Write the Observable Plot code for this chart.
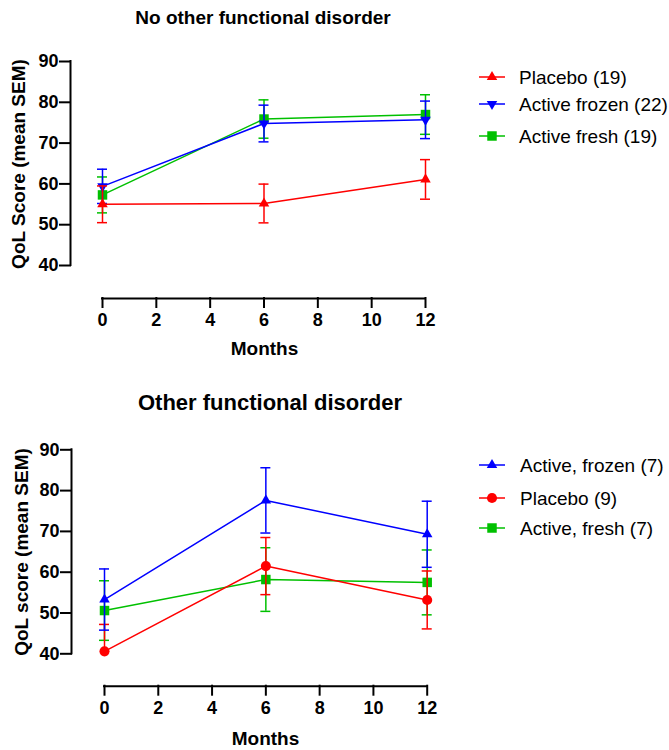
<!DOCTYPE html>
<html>
<head>
<meta charset="utf-8">
<script src="https://cdn.jsdelivr.net/npm/d3@7"></script>
<script src="https://cdn.jsdelivr.net/npm/@observablehq/plot@0.6"></script>
<style>
  body { margin: 0; background: #fff; }
  #chart { position: relative; width: 669px; height: 750px; font-family: "Liberation Sans", Arial, sans-serif; color: #000; overflow: hidden; }
  .lbl { position: absolute; white-space: nowrap; line-height: 1; font-weight: bold; transform: translate(-50%, -50%); }
  .vlbl { position: absolute; white-space: nowrap; line-height: 1; font-weight: bold; transform: translate(-50%, -50%) rotate(-90deg); }
  .leg { position: absolute; white-space: nowrap; line-height: 1; font-size: 19px; transform: translateY(-50%); }
  .sw { position: absolute; }
  .panel { position: absolute; left: 0; }
  svg.panel text { font-size: 18px !important; font-weight: bold !important; font-family: "Liberation Sans", Arial, sans-serif !important; }
</style>
</head>
<body>
<div id="chart"></div>
<script>
// ---------- data ----------
const months = [0, 6, 12];
const xTicks = [0, 2, 4, 6, 8, 10, 12];
const yTicks = [40, 50, 60, 70, 80, 90];

// Panel A: No other functional disorder
const titleA = "No other functional disorder";
const yLabelA = "QoL Score (mean SEM)";
const aPlaceboMean = [55.0, 55.2, 61.1];
const aPlaceboSem  = [4.5, 4.75, 4.85];
const aFrozenMean  = [59.4, 74.8, 75.7];
const aFrozenSem   = [4.2, 4.5, 4.6];
const aFreshMean   = [57.3, 75.9, 77.0];
const aFreshSem    = [4.4, 4.7, 4.85];
const aNames = ["Placebo (19)", "Active frozen (22)", "Active fresh (19)"];

// Panel B: Other functional disorder
const titleB = "Other functional disorder";
const yLabelB = "QoL score (mean SEM)";
const bFrozenMean  = [53.3, 77.6, 69.3];
const bFrozenSem   = [7.5, 8.0, 8.1];
const bPlaceboMean = [40.6, 61.5, 53.2];
const bPlaceboSem  = [6.6, 7.0, 7.1];
const bFreshMean   = [50.6, 58.2, 57.5];
const bFreshSem    = [7.3, 7.8, 7.95];
const bNames = ["Active, frozen (7)", "Placebo (9)", "Active, fresh (7)"];

const xLabel = "Months";

// ---------- styling ----------
const RED = "#ff0000", BLUE = "#0000ff", GREEN = "#00c000";
const triDown = {
  draw(context, size) {
    const y = Math.sqrt(size / (Math.sqrt(3) * 3));
    const x = Math.sqrt(3) * y;
    context.moveTo(0, 2 * y);
    context.lineTo(x, -y);
    context.lineTo(-x, -y);
    context.closePath();
  }
};
const SYM = {
  up:     {plot: "triangle", d3: d3.symbolTriangle, size: 48},
  down:   {plot: triDown,   d3: triDown,           size: 48},
  square: {plot: "square",  d3: d3.symbolSquare,   size: 90},
  circle: {plot: "circle",  d3: d3.symbolCircle,   size: 80}
};

function rows(mean, sem) {
  return months.map((m, i) => ({month: m, mean: mean[i], lo: mean[i] - sem[i], hi: mean[i] + sem[i]}));
}

const seriesA = [
  {name: aNames[2], color: GREEN, sym: SYM.square, data: rows(aFreshMean, aFreshSem)},
  {name: aNames[1], color: BLUE,  sym: SYM.down,   data: rows(aFrozenMean, aFrozenSem)},
  {name: aNames[0], color: RED,   sym: SYM.up,     data: rows(aPlaceboMean, aPlaceboSem)}
];
const legendA = [seriesA[2], seriesA[1], seriesA[0]];

const seriesB = [
  {name: bNames[2], color: GREEN, sym: SYM.square, data: rows(bFreshMean, bFreshSem)},
  {name: bNames[1], color: RED,   sym: SYM.circle, data: rows(bPlaceboMean, bPlaceboSem)},
  {name: bNames[0], color: BLUE,  sym: SYM.up,     data: rows(bFrozenMean, bFrozenSem)}
];
const legendB = [seriesB[2], seriesB[1], seriesB[0]];

const chart = document.getElementById("chart");

function panel(series, L) {
  const yDomain = [yTicks[0], yTicks[yTicks.length - 1]];
  const marks = [];
  for (const s of series) {
    const caps = s.data.flatMap(d => [{month: d.month, v: d.lo}, {month: d.month, v: d.hi}])
      .filter(c => c.v >= yDomain[0] && c.v <= yDomain[1]);
    marks.push(Plot.ruleX(s.data, {x: "month", y1: "lo", y2: "hi", stroke: s.color, strokeWidth: 1.5}));
    marks.push(Plot.ruleY(caps, {x1: "month", x2: "month", y: "v", insetLeft: -5, insetRight: -5, stroke: s.color, strokeWidth: 1.5}));
    marks.push(Plot.line(s.data, {x: "month", y: "mean", stroke: s.color, strokeWidth: 1.5}));
    marks.push(Plot.dot(s.data, {x: "month", y: "mean", symbol: () => s.sym.plot, r: Math.sqrt(s.sym.size / Math.PI), fill: s.color, stroke: "none"}));
  }
  // axis lines (offset Prism style)
  marks.push(Plot.ruleX([xTicks[0]], {y1: yDomain[0], y2: yDomain[1], dx: L.axisX - L.x0, strokeWidth: 2, strokeLinecap: "square"}));
  marks.push(Plot.ruleY([yDomain[0]], {x1: xTicks[0], x2: xTicks[xTicks.length - 1], dy: L.axisY - L.y40, strokeWidth: 2, strokeLinecap: "square"}));
  marks.push(Plot.axisY({ticks: yTicks, tickSize: 10, tickPadding: 2, strokeWidth: 2, strokeLinecap: "square", fontSize: 18, fontWeight: "bold", label: null}));
  marks.push(Plot.axisX({ticks: xTicks, tickSize: 9, tickPadding: 6, strokeWidth: 2, strokeLinecap: "square", fontSize: 18, fontWeight: "bold", label: null}));

  const p = Plot.plot({
    width: 669,
    height: L.h,
    marginLeft: L.axisX,
    marginRight: 669 - L.x12,
    marginTop: L.y90,
    marginBottom: L.h - L.axisY,
    style: {fontFamily: '"Liberation Sans", Arial, sans-serif', fontSize: "18px", fontWeight: "bold", background: "transparent", overflow: "visible"},
    x: {domain: [xTicks[0], xTicks[xTicks.length - 1]], range: [L.x0, L.x12]},
    y: {domain: yDomain, range: [L.y40, L.y90], clamp: true},
    marks
  });
  p.classList.add("panel");
  p.style.top = L.top + "px";
  chart.appendChild(p);
}

function label(text, x, y, size, cls) {
  const d = document.createElement("div");
  d.className = cls || "lbl";
  d.style.left = x + "px";
  d.style.top = y + "px";
  d.style.fontSize = size + "px";
  d.textContent = text;
  chart.appendChild(d);
}

function legend(items, ys, textX) {
  items.forEach((s, i) => {
    const y = ys[i];
    const svg = d3.create("svg").attr("class", "sw")
      .attr("width", 30).attr("height", 16)
      .style("left", "477px").style("top", (y - 8) + "px");
    svg.append("line").attr("x1", 2).attr("x2", 28).attr("y1", 8).attr("y2", 8)
      .attr("stroke", s.color).attr("stroke-width", 1.5);
    svg.append("path").attr("transform", "translate(15,8)")
      .attr("d", d3.symbol().type(s.sym.d3).size(s.sym.size)())
      .attr("fill", s.color);
    chart.appendChild(svg.node());
    const t = document.createElement("div");
    t.className = "leg";
    t.style.left = textX + "px";
    t.style.top = y + "px";
    t.textContent = s.name;
    chart.appendChild(t);
  });
}

// Panel A
panel(seriesA, {top: 0, h: 375, axisX: 70, x0: 102, x12: 425, y90: 61, y40: 265, axisY: 298});
label(titleA, 263, 17, 19);
label(yLabelA, 18, 164, 19, "vlbl");
label(xLabel, 264.5, 347.5, 19);
legend(legendA, [76.5, 103.5, 136], 519);

// Panel B
panel(seriesB, {top: 380, h: 370, axisX: 71, x0: 104, x12: 426.7, y90: 69.3, y40: 273.3, axisY: 305.7});
label(titleB, 270, 403, 22);
label(yLabelB, 20.8, 551.5, 19, "vlbl");
label(xLabel, 265.5, 738, 19);
legend(legendB, [464.5, 498, 528], 520);
</script>
</body>
</html>
